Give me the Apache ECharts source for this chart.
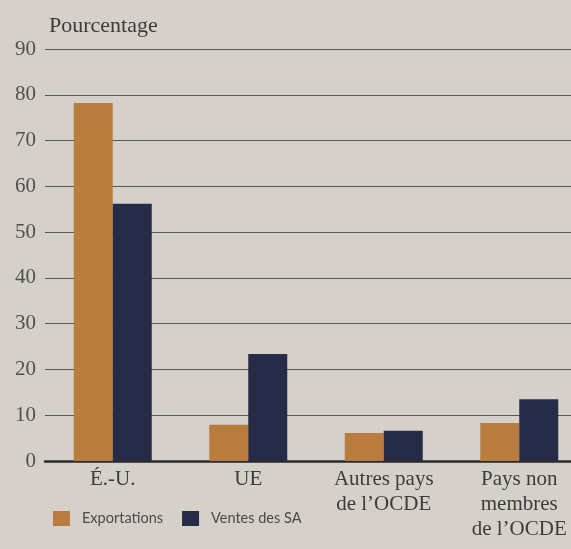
<!DOCTYPE html>
<html><head><meta charset="utf-8">
<script src="https://cdn.jsdelivr.net/npm/echarts@6/dist/echarts.min.js"></script>
<style>html,body{margin:0;padding:0;background:#d5d1ca;}#c{width:571px;height:549px;}</style>
</head><body><div id="c"></div>
<script>
const categories = ['É.-U.', 'UE', 'Autres pays\nde l’OCDE', 'Pays non\nmembres\nde l’OCDE'];
const exportations = [78.2, 7.9, 6.1, 8.3];
const ventesSA = [56.2, 23.4, 6.6, 13.5];
const yTicks = [0, 90, 10];

const chart = echarts.init(document.getElementById('c'));
chart.setOption({
  backgroundColor: '#d5d1ca',
  animation: false,
  title: {text: 'Pourcentage', left: 44, top: 10,
    textStyle: {fontFamily: 'Liberation Serif', fontSize: 22, fontWeight: 'normal', color: '#3c3c3c'}},
  legend: {
    left: 48, top: 506, itemWidth: 17, itemHeight: 15, itemGap: 19, icon: 'rect',
    textStyle: {fontFamily: 'Lato', fontSize: 14.5, color: '#4a4a4a', padding: [0, 0, 0, 7]},
    data: ['Exportations', 'Ventes des SA']
  },
  grid: {left: 45, width: 542, top: 49, bottom: 88, outerBoundsMode: 'none'},
  xAxis: {
    type: 'category', data: categories,
    axisLine: {lineStyle: {color: '#2a2a2a', width: 2.5}},
    axisTick: {show: false},
    axisLabel: {fontFamily: 'Liberation Serif', fontSize: 21, color: '#3c3c3c', lineHeight: 25, margin: 6, interval: 0, hideOverlap: false}
  },
  yAxis: {
    type: 'value', min: yTicks[0], max: yTicks[1], interval: yTicks[2],
    axisLine: {show: false}, axisTick: {show: false},
    axisLabel: {fontFamily: 'Liberation Serif', fontSize: 21, color: '#505050', margin: 9},
    splitLine: {lineStyle: {color: '#5a5753', width: 1.2}}
  },
  series: [
    {name: 'Exportations', type: 'bar', data: exportations, barWidth: 39, barGap: '0%',
     itemStyle: {color: '#b87c3f'}},
    {name: 'Ventes des SA', type: 'bar', data: ventesSA, barWidth: 39,
     itemStyle: {color: '#262b48'}}
  ]
});
</script></body></html>
